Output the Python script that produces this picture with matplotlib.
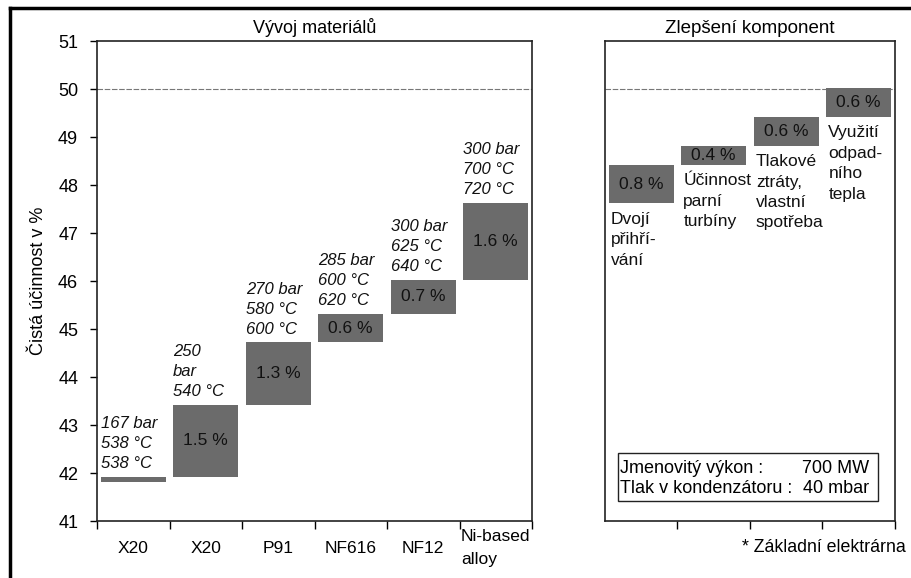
import matplotlib
matplotlib.use("Agg")
import matplotlib.pyplot as plt
from matplotlib.lines import Line2D
from matplotlib.patches import Rectangle

plt.rcParams['font.family'] = ['Liberation Sans', 'DejaVu Sans']

# ---- data ----
mat_categories = ["X20", "X20", "P91", "NF616", "NF12", "Ni-based\nalloy"]
mat_base = 41.82
mat_first_height = 0.10
mat_gains = [0.0, 1.5, 1.3, 0.6, 0.7, 1.6]
mat_gain_labels = ["", "1.5 %", "1.3 %", "0.6 %", "0.7 %", "1.6 %"]
mat_params = ["167 bar\n538 °C\n538 °C", "250\nbar\n540 °C", "270 bar\n580 °C\n600 °C",
              "285 bar\n600 °C\n620 °C", "300 bar\n625 °C\n640 °C", "300 bar\n700 °C\n720 °C"]

comp_gains = [0.8, 0.4, 0.6, 0.6]
comp_gain_labels = ["0.8 %", "0.4 %", "0.6 %", "0.6 %"]
comp_names = ["Dvojí\npřihří-\nvání", "Účinnost\nparní\nturbíny",
              "Tlakové\nztráty,\nvlastní\nspotřeba", "Využití\nodpad-\nního\ntepla"]

yticks = [41, 42, 43, 44, 45, 46, 47, 48, 49, 50, 51]
target_line = 50

bar_color = "#6b6b6b"

fig = plt.figure(figsize=(9.12, 5.78), dpi=100)
ax1 = fig.add_axes([97/912, 57/578, 435/912, 480/578])
ax2 = fig.add_axes([605/912, 57/578, 290/912, 480/578])

for ax in (ax1, ax2):
    ax.set_ylim(41, 51)
    for s in ax.spines.values():
        s.set_linewidth(1.2)
        s.set_color("#222222")
    ax.axhline(target_line, color="#777777", lw=0.8, ls=(0, (5, 1.5)), zorder=1)

# ---- left panel ----
bottoms = []
heights = []
cur = mat_base
for i, g in enumerate(mat_gains):
    if i == 0:
        bottoms.append(cur)
        heights.append(mat_first_height)
        cur = cur + mat_first_height
    else:
        bottoms.append(cur)
        heights.append(g)
        cur = cur + g
xs = [i + 0.5 for i in range(len(mat_categories))]
ax1.bar(xs, heights, bottom=bottoms, width=0.9, color=bar_color, zorder=2)
for x, b, h, lab, par in zip(xs, bottoms, heights, mat_gain_labels, mat_params):
    if lab:
        ax1.text(x, b + h / 2, lab, ha="center", va="center", fontsize=12.5, color="#111111", zorder=3)
    ax1.text(x - 0.45, b + h + 0.12, par, ha="left", va="bottom", fontsize=12,
             style="italic", linespacing=1.42, color="#111111")

ax1.set_xlim(0, len(mat_categories))
ax1.set_xticks(range(len(mat_categories) + 1))
ax1.set_xticklabels([])
ax1.set_xticks(xs, minor=True)
ax1.set_xticklabels(mat_categories, minor=True, fontsize=12.5)
ax1.tick_params(axis="x", which="major", length=6, width=1, direction="out")
ax1.tick_params(axis="x", which="minor", length=0, pad=19.5)
for t in ax1.get_xticklabels(minor=True):
    t.set_va("center")
    t.set_multialignment("left")
    t.set_linespacing(1.6)
ax1.set_yticks(yticks)
ax1.tick_params(axis="y", length=5, width=1, pad=8.5, labelsize=13)
ax1.set_ylabel("Čistá účinnost v %", fontsize=13, labelpad=8)
ax1.set_title("Vývoj materiálů", fontsize=13, pad=6)

# ---- right panel ----
cbottoms = []
for g in comp_gains:
    cbottoms.append(cur)
    cur = cur + g
cxs = [i + 0.5 for i in range(len(comp_gains))]
ax2.bar(cxs, comp_gains, bottom=cbottoms, width=0.9, color=bar_color, zorder=2)
for x, b, h, lab, name in zip(cxs, cbottoms, comp_gains, comp_gain_labels, comp_names):
    ax2.text(x, b + h / 2, lab, ha="center", va="center", fontsize=12.5, color="#111111", zorder=3)
    ax2.text(x - 0.42, b - 0.18, name, ha="left", va="top", fontsize=12.5,
             linespacing=1.45, color="#111111")

ax2.set_xlim(0, len(comp_gains))
ax2.set_xticks(range(1, len(comp_gains) + 1))
ax2.set_xticklabels([])
ax2.tick_params(axis="x", length=6, width=1, direction="out")
ax2.set_yticks([])
ax2.set_title("Zlepšení komponent", fontsize=13.5, pad=6)

# info box
ax2.add_patch(Rectangle((0.045, 0.042), 0.897, 0.1, transform=ax2.transAxes, fill=False,
                        ec="#222222", lw=1.0, zorder=4))
ax2.text(0.052, 0.11, "Jmenovitý výkon :", transform=ax2.transAxes, ha="left", va="center", fontsize=13)
ax2.text(0.91, 0.11, "700 MW", transform=ax2.transAxes, ha="right", va="center", fontsize=13)
ax2.text(0.052, 0.068, "Tlak v kondenzátoru :", transform=ax2.transAxes, ha="left", va="center", fontsize=13)
ax2.text(0.91, 0.068, "40 mbar", transform=ax2.transAxes, ha="right", va="center", fontsize=13)

fig.text(742/912, 1 - 547/578, "* Základní elektrárna", ha="left", va="center", fontsize=12.8)

# outer frame (top and left edges)
fig.add_artist(Line2D([10/912, 1.0], [1 - 8/578, 1 - 8/578], transform=fig.transFigure,
                      color="black", lw=2.5))
fig.add_artist(Line2D([10/912, 10/912], [0, 1 - 8/578], transform=fig.transFigure,
                      color="black", lw=2.5))

fig.savefig("out.png", dpi=100)
